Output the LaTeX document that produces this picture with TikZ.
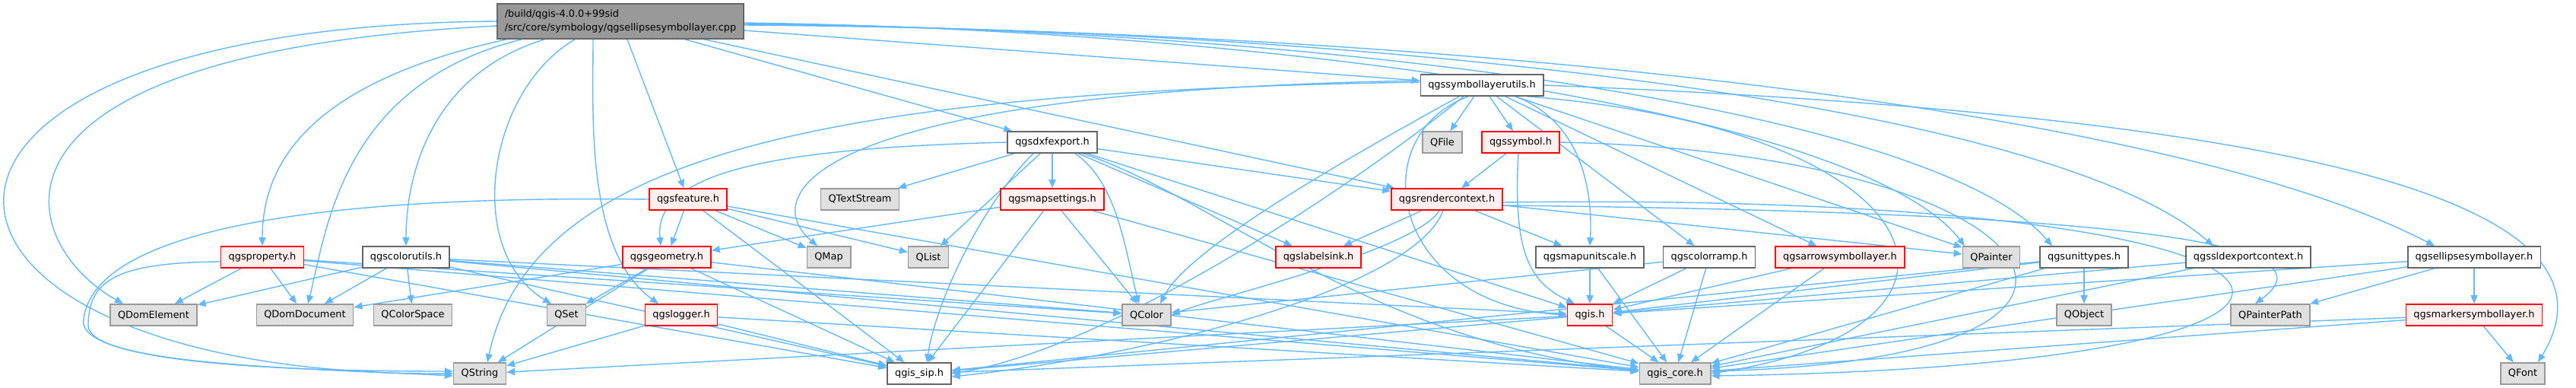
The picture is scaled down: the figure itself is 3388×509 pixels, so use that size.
\documentclass[tikz,border=0pt]{standalone}
\usepackage{fontspec}
\setmainfont{DejaVu Sans}
\usepackage{tikz}
\usetikzlibrary{arrows.meta,positioning}
\definecolor{azulArista}{RGB}{99,184,255}
\definecolor{grisRelleno}{RGB}{224,224,224}
\definecolor{grisBorde}{RGB}{153,153,153}
\definecolor{grisOscuro}{RGB}{102,102,102}
\definecolor{grisRaiz}{RGB}{153,153,153}
\definecolor{rojoRelleno}{RGB}{255,240,240}
\definecolor{rojoBorde}{RGB}{255,0,0}
\newcommand{\fuenteNodo}{\fontsize{12.9}{15.5}\selectfont}
\tikzstyle{edge}  =[draw=azulArista, line width=1.4pt,
                    -{Triangle[length=11pt,width=9pt]}]
\tikzstyle{file}  =[rectangle, draw, line width=1.6pt,
                    minimum height=28pt, inner xsep=10pt,
                    inner ysep=0pt, font=\fuenteNodo]
\tikzstyle{hfile} =[file, draw=grisOscuro, fill=white]
\tikzstyle{rfile} =[file, draw=rojoBorde, fill=rojoRelleno]
\tikzstyle{qfile} =[file, draw=grisBorde, fill=grisRelleno]
\tikzstyle{rootfile}=[file, draw=grisOscuro, fill=grisRaiz,
                    align=left, minimum height=46pt,
                    font=\fontsize{12.9}{18.5}\selectfont]
\pgfdeclarelayer{fondo}
\pgfsetlayers{fondo,main}

\begin{document}
\begin{tikzpicture}[x=1pt,y=-1pt]

        \useasboundingbox (0,0) rectangle (3388,509);

        % rank 0 and 1
        \node[rootfile] (root) at (816,28)
            {/build/qgis-4.0.0+99sid\\/src/core/symbology/qgsellipsesymbollayer.cpp};
        \node[hfile] (symutils) at (1949,112) {qgssymbollayerutils.h};

        % rank 2
        \node[hfile] (dxf)    at (1384,187) {qgsdxfexport.h};
        \node[qfile] (qfile)  at (1897,187) {QFile};
        \node[rfile] (symbol) at (2000,187) {qgssymbol.h};

        % rank 3
        \node[rfile] (feature)     at (905,262)  {qgsfeature.h};
        \node[qfile] (qtextstream) at (1131,262) {QTextStream};
        \node[rfile] (mapsettings) at (1384,262) {qgsmapsettings.h};
        \node[rfile] (rctx)        at (1903,262) {qgsrendercontext.h};

        % rank 4
        \node[rfile] (property)     at (345,338)  {qgsproperty.h};
        \node[hfile] (colorutils)   at (534,338)  {qgscolorutils.h};
        \node[rfile] (geometry)     at (877,338)  {qgsgeometry.h};
        \node[qfile] (qmap)         at (1090,338) {QMap};
        \node[qfile] (qlist)        at (1221,338) {QList};
        \node[rfile] (labelsink)    at (1734,338) {qgslabelsink.h};
        \node[hfile] (mapunitscale) at (2091,338) {qgsmapunitscale.h};
        \node[hfile] (colorramp)    at (2248,338) {qgscolorramp.h};
        \node[rfile] (arrowsym)     at (2420,338) {qgsarrowsymbollayer.h};
        \node[qfile] (qpainter)     at (2619,338) {QPainter};
        \node[hfile] (unittypes)    at (2741,338) {qgsunittypes.h};
        \node[hfile] (sldctx)       at (2957,338) {qgssldexportcontext.h};
        \node[hfile] (ellipseh)     at (3254,338) {qgsellipsesymbollayer.h};

        % rank 5
        \node[qfile] (domel)       at (202,414)  {QDomElement};
        \node[qfile] (domdoc)      at (401,414)  {QDomDocument};
        \node[qfile] (colorspace)  at (543,414)  {QColorSpace};
        \node[qfile] (qset)        at (745,414)  {QSet};
        \node[rfile] (logger)      at (896,414)  {qgslogger.h};
        \node[qfile] (qcolor)      at (1508,414) {QColor};
        \node[rfile] (qgish)       at (2091,414) {qgis.h};
        \node[qfile] (qobject)     at (2741,414) {QObject};
        \node[qfile] (painterpath) at (2986,414) {QPainterPath};
        \node[rfile] (markersym)   at (3254,414) {qgsmarkersymbollayer.h};

        % rank 6
        \node[qfile] (qstring)  at (631,491)  {QString};
        \node[hfile] (qgissip)  at (1209,491) {qgis\_sip.h};
        \node[qfile] (qgiscore) at (2203,491) {qgis\_core.h};
        \node[qfile] (qfont)    at (3318,491) {QFont};

        \begin{pgfonlayer}{fondo}

            \foreach \i/\j in {root/feature,root/dxf,root/rctx,root/symutils,
            symutils/qfile,symutils/symbol,symutils/colorramp,symutils/arrowsym,
            symutils/qpainter,dxf/qtextstream,dxf/qlist,dxf/mapsettings,dxf/rctx,
            dxf/labelsink,dxf/qgish,symbol/rctx,feature/geometry,feature/qmap,
            feature/qlist,feature/qgissip,feature/qgiscore,mapsettings/geometry,
            mapsettings/qcolor,mapsettings/qgissip,mapsettings/qgiscore,
            rctx/labelsink,rctx/mapunitscale,rctx/qpainter,property/domel,
            property/domdoc,property/qgissip,property/qgiscore,property/qcolor,
            colorutils/domel,colorutils/domdoc,colorutils/colorspace,
            colorutils/qcolor,colorutils/qgissip,colorutils/qgish,
            colorutils/qgiscore,geometry/domdoc,geometry/qset,geometry/qstring,
            geometry/qgissip,geometry/qgiscore,mapunitscale/qgish,
            mapunitscale/qgiscore,colorramp/qcolor,colorramp/qgish,
            colorramp/qgiscore,arrowsym/qgish,arrowsym/qgiscore,
            unittypes/qobject,unittypes/qgish,unittypes/qgissip,
            unittypes/qgiscore,sldctx/qgish,sldctx/qgiscore,ellipseh/markersym,
            ellipseh/painterpath,ellipseh/qgish,ellipseh/qgiscore,
            markersym/qfont,markersym/qgiscore,markersym/qgissip,logger/qstring,
            logger/qgissip,logger/qgiscore,qgish/qgiscore,qgish/qgissip,
            qgish/qstring}
                \draw [edge] (\i) to (\j);

            % long edges of the root
            \draw [edge] (root.west) .. controls (-230,35) and (-170,495) .. (qstring.west);
            \draw [edge] ([yshift=-6pt]root.west) .. controls (-60,70) and (20,320) .. ([xshift=-40pt]domel.north);
            \draw [edge] ([xshift=-150pt]root.south) .. controls (400,110) and (345,220) .. (property.north);
            \draw [edge] ([xshift=-130pt]root.south) .. controls (450,110) and (430,300) .. ([xshift=4pt]domdoc.north);
            \draw [edge] ([xshift=-100pt]root.south) .. controls (560,100) and (534,240) .. (colorutils.north);
            \draw [edge] ([xshift=-60pt]root.south) .. controls (640,120) and (610,330) .. ([xshift=-20pt]qset.north);
            \draw [edge] ([xshift=-36pt]root.south) .. controls (780,150) and (770,330) .. ([xshift=-30pt]logger.north);
            \draw [edge] ([yshift=-2pt]root.east) .. controls (1700,40) and (2450,150) .. ([xshift=-35pt]qpainter.north);
            \draw [edge] ([yshift=-3pt]root.east) .. controls (1800,40) and (2550,150) .. ([xshift=-42pt]unittypes.north);
            \draw [edge] ([yshift=-4pt]root.east) .. controls (1850,40) and (2700,140) .. ([xshift=-46pt]sldctx.north);
            \draw [edge] ([yshift=-5pt]root.east) .. controls (1900,40) and (2850,140) .. ([xshift=-52pt]ellipseh.north);

            % curved edges
            \draw [edge] (feature.west) .. controls (300,255) and (120,330) .. (110,420)
                .. controls (100,480) and (400,488) .. ([yshift=3pt]qstring.west);
            \draw [edge] ([yshift=-6pt]property.west) .. controls (150,345) and (118,370) .. (116,425)
                .. controls (108,480) and (400,484) .. ([yshift=-3pt]qstring.west);
            \draw [edge] ([yshift=4pt]symutils.west) .. controls (1100,120) and (700,200) .. ([xshift=10pt]qstring.north);
            \draw [edge] ([yshift=6pt]symutils.west) .. controls (1050,120) and (1000,260) .. ([xshift=-15pt]qmap.north);
            \draw [edge] ([xshift=-30pt]symutils.south) .. controls (1750,220) and (1560,330) .. ([xshift=18pt]qcolor.north);
            \draw [edge] ([xshift=-24pt]symutils.south) .. controls (1760,260) and (1450,460) .. (qgissip.east);
            \draw [edge] ([xshift=-3pt]symbol.south) .. controls (1990,330) and (2010,370) .. ([xshift=-20pt]qgish.north);
            \draw [edge] (symbol.east) .. controls (2700,200) and (2900,470) .. ([yshift=3pt]qgiscore.east);
            \draw [edge] ([xshift=44pt]symutils.south) .. controls (2080,160) and (2095,250) .. (mapunitscale.north);
            \draw [edge] ([xshift=-18pt]symutils.south) .. controls (1790,180) and (1830,400) .. (qgish.west);
            \draw [edge] (symutils.east) .. controls (3000,150) and (3470,260) .. ([xshift=20pt]qfont.north);
            \draw [edge] ([xshift=60pt]symutils.south) .. controls (2550,170) and (2650,430) .. (qgiscore.east);
            \draw [edge] ([yshift=-4pt]rctx.east) .. controls (3150,250) and (3250,480) .. ([yshift=-3pt]qgiscore.east);
            \draw [edge] ([yshift=-8pt]rctx.east) .. controls (2900,280) and (3060,330) .. ([xshift=-20pt]painterpath.north);
            \draw [edge] ([xshift=-10pt]rctx.south) .. controls (1860,330) and (1600,390) .. (qcolor.east);
            \draw [edge] ([xshift=-5pt]rctx.south) .. controls (1860,380) and (1500,470) .. ([yshift=-4pt]qgissip.east);
            \draw [edge] (dxf.west) .. controls (1000,195) and (860,230) .. ([xshift=-8pt]geometry.north);
            \draw [edge] ([xshift=-25pt]dxf.south) .. controls (1290,270) and (1230,400) .. ([xshift=10pt]qgissip.north);
            \draw [edge] ([xshift=30pt]dxf.south) .. controls (1470,240) and (1480,330) .. ([xshift=-10pt]qcolor.north);
            \draw [edge] ([xshift=40pt]dxf.south) .. controls (1600,260) and (1800,450) .. ([yshift=4pt]qgiscore.west);

        \end{pgfonlayer}

    \end{tikzpicture}
\end{document}
